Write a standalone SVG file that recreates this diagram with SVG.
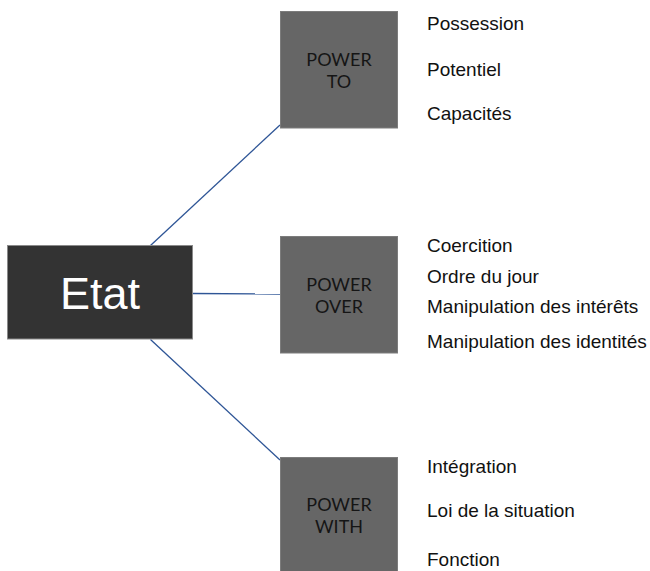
<svg xmlns="http://www.w3.org/2000/svg" width="650" height="571" viewBox="0 0 650 571">
<style>
.box{fill:#666666;stroke:#7c7c7c;stroke-width:1}
.pl{font-family:Lato,"Open Sans",sans-serif;font-size:18px;fill:#151515;text-anchor:middle}
.it{font-family:"Liberation Sans",Arial,sans-serif;font-size:19px;fill:#111111}
.conn line{stroke:#2E5596;stroke-width:1.3}
</style>
<rect width="650" height="571" fill="#ffffff"/>
<g id="connectors" class="conn">
<line x1="150.5" y1="245.5" x2="280" y2="125"/>
<line x1="193" y1="293.5" x2="280" y2="294"/>
<line x1="150.5" y1="339.5" x2="280" y2="460"/>
</g>
<g id="etat">
<rect x="7.5" y="245.5" width="185" height="93.5" fill="#333333" stroke="#8a8a8a" stroke-width="1"/>
<text x="100" y="309" font-family="Liberation Sans,Arial,sans-serif" font-size="45" fill="#ffffff" text-anchor="middle">Etat</text>
</g>
<g id="power-to">
<rect class="box" x="280.5" y="11.5" width="117" height="116.5"/>
<text class="pl" x="339" y="66">POWER</text>
<text class="pl" x="339" y="88">TO</text>
</g>
<g id="power-over">
<rect class="box" x="280.5" y="236.5" width="117" height="116.5"/>
<text class="pl" x="339" y="291">POWER</text>
<text class="pl" x="339" y="313">OVER</text>
</g>
<g id="power-with">
<rect class="box" x="280.5" y="457.5" width="117" height="120"/>
<text class="pl" x="339" y="511">POWER</text>
<text class="pl" x="339" y="533">WITH</text>
</g>
<g id="list-to">
<text class="it" x="427" y="30">Possession</text>
<text class="it" x="427" y="76">Potentiel</text>
<text class="it" x="427" y="120">Capacités</text>
</g>
<g id="list-over">
<text class="it" x="427" y="252">Coercition</text>
<text class="it" x="427" y="283">Ordre du jour</text>
<text class="it" x="427" y="313">Manipulation des intérêts</text>
<text class="it" x="427" y="348">Manipulation des identités</text>
</g>
<g id="list-with">
<text class="it" x="427" y="473">Intégration</text>
<text class="it" x="427" y="517">Loi de la situation</text>
<text class="it" x="427" y="566">Fonction</text>
</g>
</svg>
